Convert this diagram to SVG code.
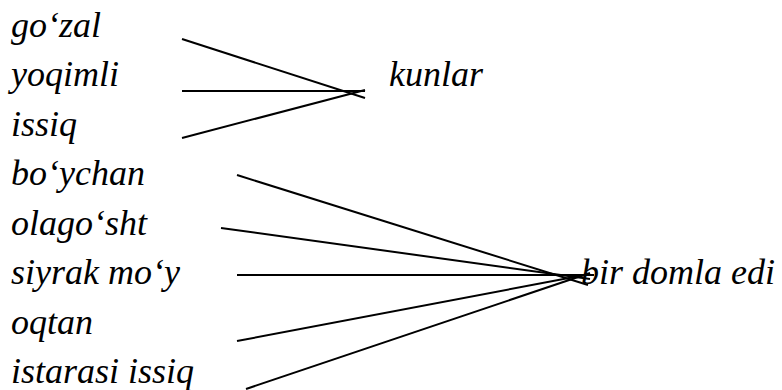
<svg xmlns="http://www.w3.org/2000/svg" width="782" height="390" viewBox="0 0 782 390">
<style>
.t text{font-family:'Liberation Serif',serif;font-style:italic;font-size:36px;fill:#000}
.c line{stroke:#000;stroke-width:2;fill:none}
</style>
<rect width="782" height="390" fill="#fff"/>
<g class="t">
<g id="n-gozal"><text x="11" y="37">go‘zal</text></g>
<g id="n-yoqimli"><text x="11" y="86">yoqimli</text></g>
<g id="n-issiq"><text x="11" y="136">issiq</text></g>
<g id="n-kunlar"><text x="389" y="86">kunlar</text></g>
<g id="n-boychan"><text x="11" y="185">bo‘ychan</text></g>
<g id="n-olagosht"><text x="11" y="235">olago‘sht</text></g>
<g id="n-siyrak"><text x="11" y="284">siyrak mo‘y</text></g>
<g id="n-oqtan"><text x="11" y="334">oqtan</text></g>
<g id="n-istarasi"><text x="11" y="383">istarasi issiq</text></g>
<g id="n-domla"><text x="581" y="284">bir domla edi</text></g>
</g>
<g id="connectors" class="c">
<line x1="182" y1="39" x2="365" y2="98"/>
<line x1="182" y1="91" x2="365" y2="91"/>
<line x1="182" y1="138" x2="365" y2="90"/>
<line x1="237" y1="175" x2="588" y2="285"/>
<line x1="221" y1="228" x2="590" y2="279"/>
<line x1="237" y1="275" x2="594" y2="275"/>
<line x1="237" y1="341" x2="590" y2="274"/>
<line x1="246" y1="389" x2="590" y2="273"/>
</g>
</svg>
